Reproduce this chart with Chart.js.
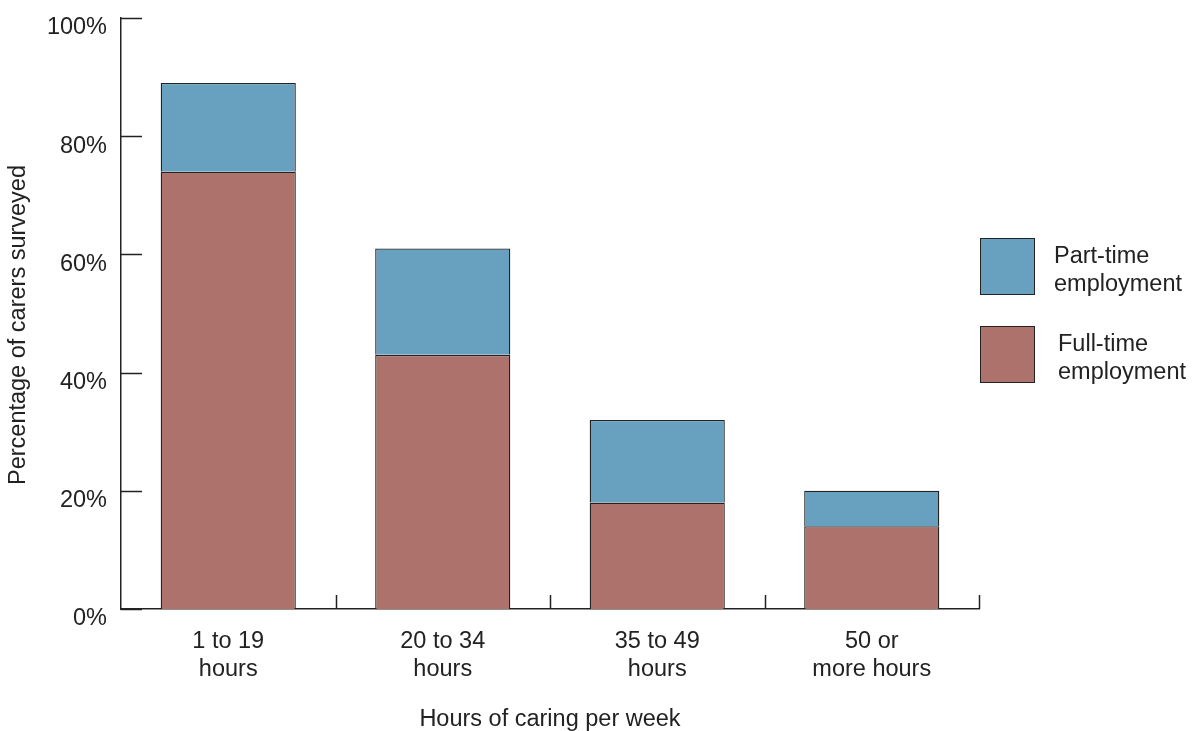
<!DOCTYPE html>
<html>
<head>
<meta charset="utf-8">
<script src="https://cdn.jsdelivr.net/npm/chart.js@4"></script>
<style>
  html, body { margin: 0; padding: 0; background: #fff; }
  #wrap { width: 1192px; height: 731px; }
</style>
</head>
<body>
<div id="wrap"><canvas id="barChart" width="1192" height="731"></canvas></div>
<script>
const categories = [['1 to 19', 'hours'], ['20 to 34', 'hours'], ['35 to 49', 'hours'], ['50 or', 'more hours']];
const fullTime = [74, 43, 18, 14];
const partTime = [15, 18, 14, 6];
const yTicks = [0, 20, 40, 60, 80, 100];

const FONT = 'Liberation Sans, Arial, Helvetica, sans-serif';
const SIZE = 23.5;
const INK = '#222';

// inward y ticks, upward x ticks, legend and y title
const extrasPlugin = {
    id: 'extras',
    afterDraw(chart) {
        const { ctx, chartArea, scales } = chart;
        const x = scales.x, y = scales.y;
        ctx.save();
        ctx.strokeStyle = INK;
        ctx.lineWidth = 1.5;

        yTicks.forEach(v => {
            const py = Math.round(y.getPixelForValue(v)) + 0.5;
            ctx.beginPath();
            ctx.moveTo(chartArea.left, py);
            ctx.lineTo(chartArea.left + 21, py);
            ctx.stroke();
        });

        for (let i = 1; i <= categories.length; i++) {
            const px = Math.round(x.getPixelForValue(i - 0.5)) + 0.5;
            ctx.beginPath();
            ctx.moveTo(px, chartArea.bottom);
            ctx.lineTo(px, chartArea.bottom - 14);
            ctx.stroke();
        }

        // y title
        ctx.fillStyle = INK;
        ctx.font = SIZE + 'px ' + FONT;
        ctx.textAlign = 'center';
        ctx.textBaseline = 'middle';
        ctx.translate(19, 325);
        ctx.rotate(-Math.PI / 2);
        ctx.fillText('Percentage of carers surveyed', 0, 0);
        ctx.restore();

        // legend, top dataset first
        ctx.save();
        const items = chart.data.datasets.slice().reverse();
        items.forEach((ds, i) => {
            const top = 238 + i * 88;
            ctx.fillStyle = ds.backgroundColor;
            ctx.fillRect(980, top, 54, 56);
            ctx.strokeStyle = INK;
            ctx.lineWidth = 1;
            ctx.strokeRect(980.5, top + 0.5, 54, 56);
            ctx.fillStyle = INK;
            ctx.font = SIZE + 'px ' + FONT;
            ctx.textAlign = 'left';
            ctx.textBaseline = 'alphabetic';
            const tx = i === 0 ? 1054 : 1058;
            const lines = ds.label.split('\n');
            lines.forEach((ln, j) => ctx.fillText(ln, tx, top + 25 + j * 28));
        });
        ctx.restore();
    }
};

const noPad = s => {
    s.paddingTop = 0;
    s.paddingBottom = 0;
    s.paddingLeft = 0;
    s.paddingRight = 0;
};

const ctx = document.getElementById('barChart');

new Chart(ctx, {
    type: 'bar',
    data: {
        labels: categories,
        datasets: [{
            label: 'Full-time\nemployment',
            data: fullTime,
            backgroundColor: '#AC726B',
            borderColor: '#222',
            borderWidth: 1.3
        }, {
            label: 'Part-time\nemployment',
            data: partTime,
            backgroundColor: '#68A1C0',
            borderColor: '#222',
            borderWidth: 1.3
        }]
    },
    options: {
        responsive: false,
        animation: false,
        layout: { padding: { left: 0, top: 18, right: 213, bottom: 0 } },
        plugins: {
            legend: { display: false },
            tooltip: { enabled: false }
        },
        datasets: {
            bar: { categoryPercentage: 1, barPercentage: 0.63 }
        },
        scales: {
            x: {
                stacked: true,
                afterFit: s => { s.height = 122; noPad(s); },
                grid: { display: false, drawTicks: false },
                border: { display: true, color: INK, width: 1.5 },
                ticks: {
                    color: INK,
                    padding: 19,
                    font: { family: FONT, size: SIZE, lineHeight: 1.19 }
                },
                title: {
                    display: true,
                    text: 'Hours of caring per week',
                    color: INK,
                    font: { family: FONT, size: SIZE, lineHeight: 1.2 },
                    padding: { top: 0, bottom: -3 }
                }
            },
            y: {
                stacked: true,
                min: 0,
                max: 100,
                afterFit: s => { s.width = 121; noPad(s); },
                afterBuildTicks: s => { s.ticks = yTicks.map(v => ({ value: v })); },
                grid: { display: false, drawTicks: false },
                border: { display: true, color: INK, width: 1.5 },
                ticks: {
                    color: INK,
                    padding: 14,
                    labelOffset: 10,
                    font: { family: FONT, size: SIZE },
                    callback: v => v + '%'
                }
            }
        }
    },
    plugins: [extrasPlugin]
});
</script>
</body>
</html>
